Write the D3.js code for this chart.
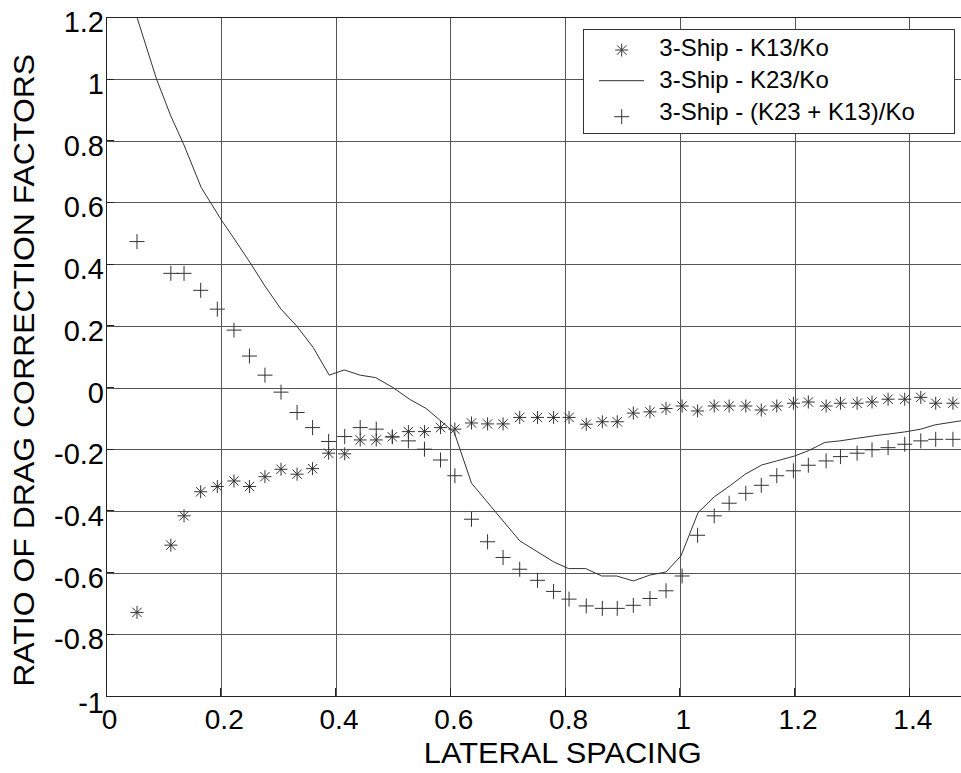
<!DOCTYPE html>
<html>
<head>
<meta charset="utf-8">
<script src="https://cdn.jsdelivr.net/npm/d3@7"></script>
<style>
  html, body { margin: 0; padding: 0; background: #fff; }
  svg { display: block; }
  text { font-family: "Liberation Sans", Arial, sans-serif; fill: #000; }
</style>
</head>
<body>
<svg id="chart" width="961" height="773"></svg>
<script>
// ---------- data ----------
const spacing = [0.054, 0.113, 0.136, 0.165, 0.194, 0.223, 0.250, 0.277, 0.305, 0.333,
  0.360, 0.388, 0.416, 0.443, 0.471, 0.499, 0.527, 0.555, 0.583, 0.608,
  0.637, 0.665, 0.692, 0.721, 0.752, 0.780, 0.807, 0.837, 0.865, 0.891,
  0.919, 0.948, 0.976, 1.004, 1.031, 1.060, 1.086, 1.115, 1.142, 1.169,
  1.198, 1.224, 1.255, 1.280, 1.309, 1.335, 1.363, 1.392, 1.420, 1.446, 1.476];

const k13 = [-0.729, -0.511, -0.416, -0.338, -0.321, -0.303, -0.321, -0.289, -0.265, -0.281,
  -0.263, -0.213, -0.215, -0.170, -0.170, -0.160, -0.143, -0.143, -0.130, -0.135,
  -0.115, -0.118, -0.118, -0.097, -0.097, -0.097, -0.097, -0.119, -0.111, -0.111,
  -0.083, -0.079, -0.068, -0.060, -0.076, -0.060, -0.060, -0.060, -0.073, -0.060,
  -0.051, -0.047, -0.060, -0.051, -0.051, -0.047, -0.038, -0.038, -0.032, -0.051, -0.051];

const k23plusk13 = [0.473, 0.370, 0.370, 0.315, 0.254, 0.186, 0.102, 0.040, -0.015, -0.081,
  -0.130, -0.175, -0.159, -0.130, -0.135, -0.160, -0.173, -0.200, -0.235, -0.286,
  -0.427, -0.500, -0.551, -0.589, -0.625, -0.661, -0.686, -0.708, -0.716, -0.716,
  -0.706, -0.684, -0.659, -0.611, -0.479, -0.416, -0.375, -0.343, -0.317, -0.286,
  -0.270, -0.252, -0.238, -0.224, -0.213, -0.202, -0.195, -0.184, -0.173, -0.168, -0.168];

const k23X = [0.054, 0.088, 0.113, 0.135, 0.166, 0.202, 0.222, 0.251, 0.277, 0.305,
  0.332, 0.361, 0.389, 0.415, 0.443, 0.470, 0.500, 0.529, 0.558, 0.582,
  0.607, 0.637, 0.721, 0.780, 0.806, 0.836, 0.864, 0.890, 0.919, 0.948,
  0.976, 1.002, 1.032, 1.061, 1.087, 1.114, 1.143, 1.169, 1.200, 1.224,
  1.253, 1.279, 1.308, 1.337, 1.363, 1.392, 1.420, 1.445, 1.476, 1.504];
const k23 = [1.200, 1.000, 0.880, 0.790, 0.648, 0.540, 0.486, 0.405, 0.329, 0.254,
  0.200, 0.130, 0.040, 0.057, 0.040, 0.032, 0.000, -0.038, -0.068, -0.106,
  -0.146, -0.310, -0.497, -0.565, -0.587, -0.587, -0.611, -0.611, -0.627, -0.608,
  -0.598, -0.546, -0.405, -0.353, -0.319, -0.281, -0.251, -0.238, -0.222, -0.205,
  -0.178, -0.173, -0.165, -0.157, -0.151, -0.144, -0.135, -0.121, -0.112, -0.104];

const xTicks = [0, 0.2, 0.4, 0.6, 0.8, 1.0, 1.2, 1.4];
const xTickLabels = ["0", "0.2", "0.4", "0.6", "0.8", "1", "1.2", "1.4"];
const yTicks = [-1, -0.8, -0.6, -0.4, -0.2, 0, 0.2, 0.4, 0.6, 0.8, 1.0, 1.2];
const yTickLabels = ["-1", "-0.8", "-0.6", "-0.4", "-0.2", "0", "0.2", "0.4", "0.6", "0.8", "1", "1.2"];

const seriesNames = ["3-Ship - K13/Ko", "3-Ship - K23/Ko", "3-Ship - (K23 + K13)/Ko"];
const xTitle = "LATERAL SPACING";
const yTitle = "RATIO OF DRAG CORRECTION FACTORS";

// ---------- layout ----------
const W = 961, H = 773;
const plotL = 106, plotT = 17.3, plotB = 696, pxPerUnit = 573.8;
const plotR = W;
const x = d3.scaleLinear().domain([0, 1.5]).range([plotL, plotL + 1.5 * pxPerUnit]);
const y = d3.scaleLinear().domain([-1, 1.2]).range([plotB, plotT]);

const svg = d3.select("#chart");
const ink = "#333";
const gridCol = "#555";

svg.append("defs").append("clipPath").attr("id", "plotClip")
  .append("rect").attr("x", plotL).attr("y", plotT).attr("width", plotR - plotL).attr("height", plotB - plotT);

// grid via axes
const gx = svg.append("g").attr("transform", `translate(0,${plotB})`)
  .call(d3.axisBottom(x).tickValues(xTicks).tickSize(-(plotB - plotT)).tickFormat((d, i) => xTickLabels[i]));
gx.select(".domain").remove();
gx.selectAll(".tick line").attr("stroke", gridCol).attr("stroke-width", 1).attr("shape-rendering", "crispEdges");
gx.selectAll(".tick text")
  .attr("y", 0).attr("dy", 0)
  .attr("transform", "translate(3,33)")
  .attr("fill", "#000")
  .style("font-size", "28px");

const gy = svg.append("g").attr("transform", `translate(${plotL},0)`)
  .call(d3.axisLeft(y).tickValues(yTicks).tickSize(-(plotR - plotL)).tickFormat((d, i) => yTickLabels[i]));
gy.select(".domain").remove();
gy.selectAll(".tick line").attr("stroke", gridCol).attr("stroke-width", 1).attr("shape-rendering", "crispEdges");
gy.selectAll(".tick text")
  .attr("x", -2).attr("dy", 0)
  .attr("y", d => d === -1 ? 16 : 14.5)
  .attr("text-anchor", "end")
  .attr("fill", "#000")
  .style("font-size", "29px");

// small inward tick marks on the left and bottom axes
svg.append("g").selectAll("line").data(yTicks).join("line")
  .attr("x1", plotL).attr("x2", plotL + 8).attr("y1", d => y(d)).attr("y2", d => y(d))
  .attr("stroke", "#222").attr("shape-rendering", "crispEdges");
svg.append("g").selectAll("line").data(xTicks).join("line")
  .attr("x1", d => x(d)).attr("x2", d => x(d)).attr("y1", plotB).attr("y2", plotB - 8)
  .attr("stroke", "#222").attr("shape-rendering", "crispEdges");

// axis lines
svg.append("line").attr("x1", plotL).attr("x2", plotL).attr("y1", plotT).attr("y2", plotB)
  .attr("stroke", "#222").attr("shape-rendering", "crispEdges");
svg.append("line").attr("x1", plotL).attr("x2", plotR).attr("y1", plotB).attr("y2", plotB)
  .attr("stroke", "#222").attr("shape-rendering", "crispEdges");
svg.append("line").attr("x1", plotL).attr("x2", plotR).attr("y1", plotT).attr("y2", plotT)
  .attr("stroke", "#222").attr("shape-rendering", "crispEdges");

// markers
function asteriskPath(r) {
  const d = r * 0.72;
  return `M${-r},0L${r},0M0,${-r}L0,${r}M${-d},${-d}L${d},${d}M${-d},${d}L${d},${-d}`;
}
function plusPath(r) {
  return `M${-r},0L${r},0M0,${-r}L0,${r}`;
}

const plot = svg.append("g").attr("clip-path", "url(#plotClip)");

// K23 line
const lineData = k23X.map((v, i) => [v, k23[i]]);
plot.append("path")
  .datum(lineData)
  .attr("fill", "none")
  .attr("stroke", "#333")
  .attr("stroke-width", 1)
  .attr("d", d3.line().x(d => x(d[0])).y(d => y(d[1])));

// K13 asterisks
plot.append("g").selectAll("path")
  .data(spacing.map((v, i) => [v, k13[i]]))
  .join("path")
  .attr("transform", d => `translate(${x(d[0])},${y(d[1])})`)
  .attr("d", asteriskPath(6.5))
  .attr("fill", "none").attr("stroke", ink).attr("stroke-width", 1);

// (K23+K13) pluses
plot.append("g").selectAll("path")
  .data(spacing.map((v, i) => [v, k23plusk13[i]]))
  .join("path")
  .attr("transform", d => `translate(${x(d[0])},${y(d[1])})`)
  .attr("d", plusPath(7.5))
  .attr("fill", "none").attr("stroke", ink).attr("stroke-width", 1);

// axis titles
svg.append("text")
  .attr("x", 562.8).attr("y", 763)
  .attr("text-anchor", "middle")
  .attr("textLength", 278).attr("lengthAdjust", "spacingAndGlyphs")
  .style("font-size", "30px")
  .text(xTitle);

svg.append("text")
  .attr("transform", "translate(33.5,370.3) rotate(-90)")
  .attr("text-anchor", "middle")
  .attr("textLength", 633).attr("lengthAdjust", "spacingAndGlyphs")
  .style("font-size", "30px")
  .text(yTitle);

// legend
const lg = svg.append("g");
lg.append("rect").attr("x", 583.5).attr("y", 29.5).attr("width", 371).attr("height", 104)
  .attr("fill", "#fff").attr("stroke", "#333").attr("stroke-width", 1);
const rowY = [50, 80.7, 116.7];
const baseY = [56, 88.3, 120];
lg.append("path").attr("transform", `translate(621.7,${rowY[0]})`).attr("d", asteriskPath(6.5))
  .attr("fill", "none").attr("stroke", ink);
lg.append("line").attr("x1", 599).attr("x2", 644).attr("y1", rowY[1]).attr("y2", rowY[1])
  .attr("stroke", "#333");
lg.append("path").attr("transform", `translate(621.7,${rowY[2]})`).attr("d", plusPath(7.5))
  .attr("fill", "none").attr("stroke", ink);
lg.selectAll("text.leg").data(seriesNames).join("text")
  .attr("class", "leg")
  .attr("x", 659.3).attr("y", (d, i) => baseY[i])
  .style("font-size", "24px")
  .text(d => d);
</script>
</body>
</html>
